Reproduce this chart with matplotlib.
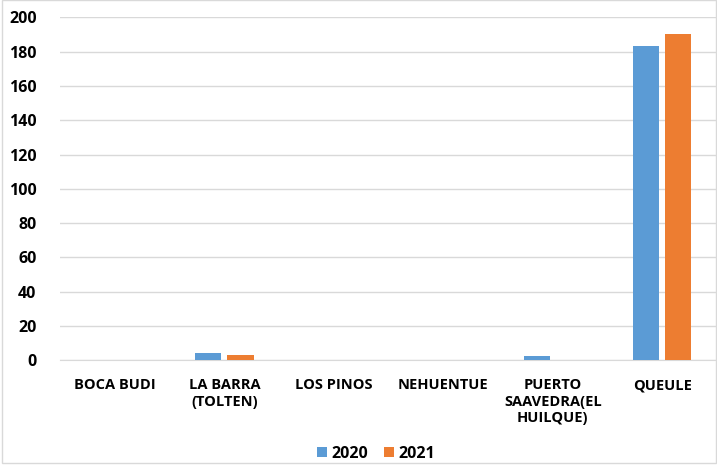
import numpy as np
import matplotlib.pyplot as plt

# data
categories = ['BOCA BUDI', 'LA BARRA\n(TOLTEN)', 'LOS PINOS', 'NEHUENTUE',
              'PUERTO\nSAAVEDRA(EL\nHUILQUE)', 'QUEULE']
vals_2020 = [0.3, 4.5, 0.3, 0.0, 2.3, 183.5]
vals_2021 = [0.0, 3.0, 0.3, 0.3, 0.3, 190.0]
yticks = [0, 20, 40, 60, 80, 100, 120, 140, 160, 180, 200]

c2020 = '#5b9bd5'
c2021 = '#ed7d31'

plt.rcParams['font.family'] = ['Open Sans', 'DejaVu Sans']

fig = plt.figure(figsize=(7.17, 4.68), dpi=100)
ax = fig.add_axes([0.084, 0.23, 0.916, 0.733])

x = np.arange(len(categories))
w = 0.24
ax.bar(x - 0.147, vals_2020, w, color=c2020, label='2020', zorder=3)
ax.bar(x + 0.147, vals_2021, w, color=c2021, label='2021', zorder=3)

ax.set_xlim(-0.5, len(categories) - 0.5)
ax.set_ylim(0, 200)
ax.set_yticks(yticks)
ax.set_yticklabels([str(t) for t in yticks], fontsize=11.5, fontweight='bold')
ax.set_xticks(x)
ax.set_xticklabels(categories, fontsize=10.5, fontweight='bold', va='top', linespacing=1.2)
ax.tick_params(axis='both', length=0)
ax.tick_params(axis='x', pad=13)
ax.tick_params(axis='y', pad=17)
ax.grid(axis='y', color='#d9d9d9', linewidth=1, zorder=0)
for s in ['top', 'right', 'left']:
    ax.spines[s].set_visible(False)
ax.spines['bottom'].set_color('#d9d9d9')

fig.legend(loc='lower center', bbox_to_anchor=(0.525, -0.018), ncol=2, frameon=False,
           prop={'weight': 'bold', 'size': 11.5}, handlelength=0.6, handleheight=0.6,
           columnspacing=1.0, handletextpad=0.3)

# thin outer border like the source image
fig.patches.append(plt.Rectangle((0.003, 0.01), 0.996, 0.99, transform=fig.transFigure,
                                 fill=False, edgecolor='#d9d9d9', linewidth=1))

fig.savefig('out.png', dpi=100)
